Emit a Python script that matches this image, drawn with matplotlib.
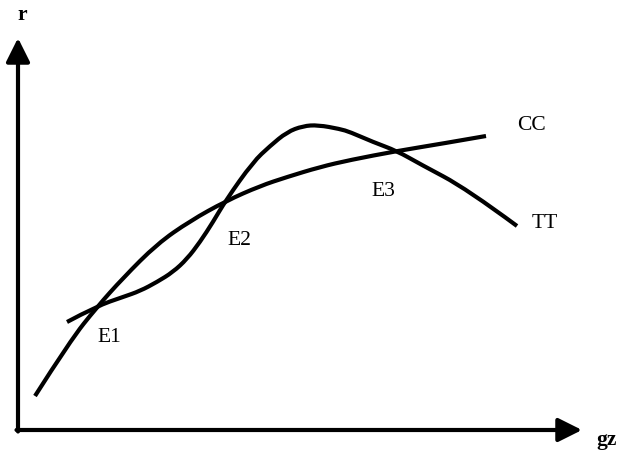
import numpy as np
import matplotlib.pyplot as plt
from matplotlib.path import Path
from matplotlib.patches import PathPatch

# schematic curves (origin where the axes meet)
cc_x = np.array([17, 52, 79, 105, 139, 172, 208, 242, 269, 302, 332, 379, 422, 468])
cc_y = np.array([34, 89, 123, 152, 186, 209, 229, 244, 253, 263, 270, 279, 286, 294])

tt_x = np.array([49, 79, 105, 122, 139, 155, 169, 182, 195, 208, 235, 252, 269, 285,
                 300, 322, 332, 355, 379, 402, 449, 499])
tt_y = np.array([108, 124, 133, 139, 148, 158, 171, 188, 208, 230, 268, 284, 298, 304,
                 305, 301, 298, 288, 279, 266, 241, 204])

eq_labels = ['E1', 'E2', 'E3']
eq_x = [91, 221, 365]
eq_y = [93, 190, 239]

curve_labels = ['CC', 'TT']
curve_x = [514, 527]
curve_y = [305, 208]


def smooth(xs, ys):
    # read points used as control points of quadratic bezier pieces
    pts = np.column_stack([xs, ys]).astype(float)
    verts = [pts[0]]
    codes = [Path.MOVETO]
    for i in range(1, len(pts) - 1):
        verts += [pts[i], (pts[i] + pts[i + 1]) / 2]
        codes += [Path.CURVE3, Path.CURVE3]
    verts[-1] = pts[-1]
    return Path(verts, codes)


fig = plt.figure(figsize=(6.24, 4.56), dpi=100)
ax = fig.add_axes([0, 0, 1, 1])
ax.set_xlim(-18, 606)
ax.set_ylim(-25, 431)
ax.axis('off')

# axes with arrow heads
ax.annotate('', xy=(0, 392), xytext=(0, -1.5),
            arrowprops=dict(arrowstyle='-|>,head_length=0.72,head_width=0.36',
                            lw=3, color='black', shrinkA=0, shrinkB=0,
                            mutation_scale=20))
ax.annotate('', xy=(564, 0), xytext=(-1.5, 0),
            arrowprops=dict(arrowstyle='-|>,head_length=0.72,head_width=0.36',
                            lw=3, color='black', shrinkA=0, shrinkB=0,
                            mutation_scale=20))

for xs, ys in [(cc_x, cc_y), (tt_x, tt_y)]:
    ax.add_patch(PathPatch(smooth(xs, ys), fill=False, edgecolor='black',
                           lw=3, capstyle='butt', joinstyle='round'))

font = dict(family='Liberation Serif', fontsize=15.5, color='black',
            ha='center', va='center')
for lab, x, y in zip(eq_labels, eq_x, eq_y):
    ax.text(x, y, lab, **font)
for lab, x, y in zip(curve_labels, curve_x, curve_y):
    ax.text(x, y, lab, **font)

ax.text(4, 416, 'r', fontweight='bold', **font)
ax.text(589, -9, 'gz', fontweight='bold', **font)

plt.savefig('out.png', dpi=100)
